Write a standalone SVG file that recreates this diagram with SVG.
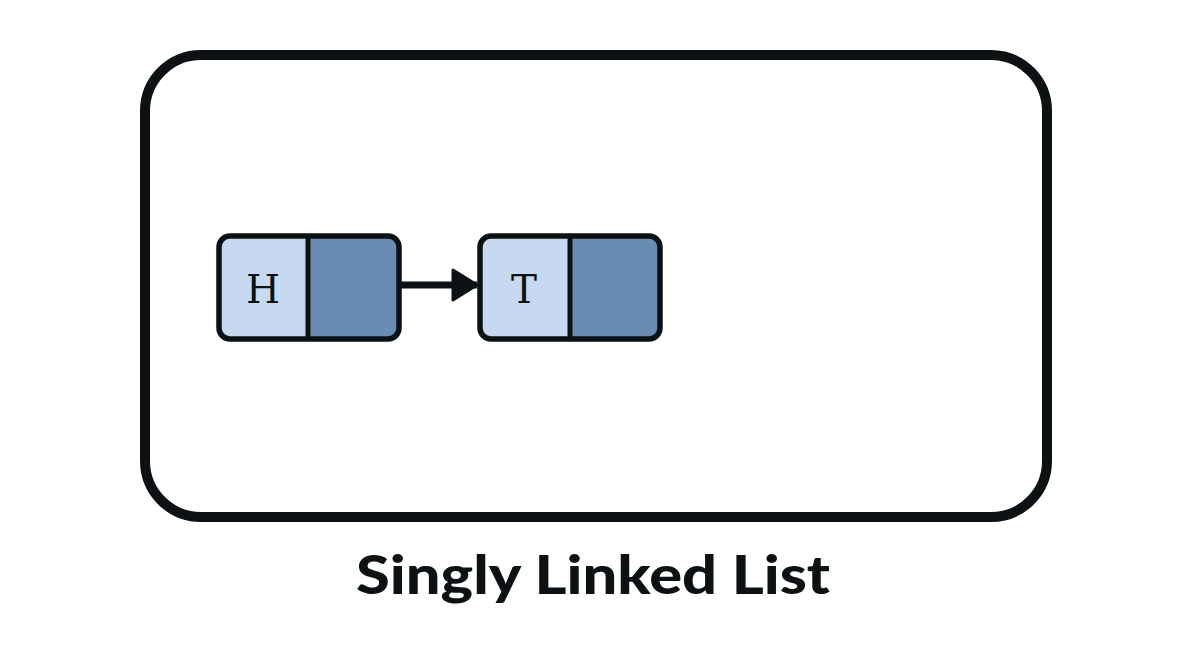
<svg xmlns="http://www.w3.org/2000/svg" width="1190" height="648" viewBox="0 0 1190 648">
<style>
.frame{fill:#fff;stroke:#0c1214;stroke-width:10}
.light{fill:#c7d9f0}
.dark{fill:#6a8cb2}
.box{fill:none;stroke:#0c1214;stroke-width:5.5}
.div{stroke:#0c1214;stroke-width:5}
.lbl{font-family:"DejaVu Serif","Liberation Serif",serif;font-size:39px;fill:#0c1214;text-anchor:middle}
.title{font-family:Lato,"Noto Sans",sans-serif;font-weight:900;font-size:54px;fill:#0c1214;text-anchor:middle}
.link{stroke:#0c1214;stroke-width:7;fill:none}
</style>
<defs>
<marker id="ah" markerUnits="userSpaceOnUse" markerWidth="28" markerHeight="34" refX="26" refY="17" orient="auto">
<path d="M2,2 L26,17 L2,32 Z" fill="#0c1214" stroke="#0c1214" stroke-width="3" stroke-linejoin="round"/>
</marker>
</defs>
<rect class="frame" x="145" y="55" width="902" height="462" rx="56"/>
<g id="node-h">
<rect class="light" x="219" y="236" width="90" height="103" rx="10"/>
<rect class="dark" x="308" y="236" width="90" height="103" rx="10"/>
<rect class="dark" x="308" y="236" width="40" height="103"/>
<rect class="box" x="219" y="236" width="180" height="103" rx="11"/>
<line class="div" x1="308" y1="236" x2="308" y2="339"/>
<text class="lbl" x="263" y="303">H</text>
</g>
<g id="node-t">
<rect class="light" x="480" y="236" width="90" height="103" rx="10"/>
<rect class="dark" x="570" y="236" width="90" height="103" rx="10"/>
<rect class="dark" x="570" y="236" width="40" height="103"/>
<rect class="box" x="480" y="236" width="180" height="103" rx="11"/>
<line class="div" x1="570" y1="236" x2="570" y2="339"/>
<text class="lbl" x="524" y="303">T</text>
</g>
<g id="connectors">
<line class="link" x1="401" y1="285" x2="477" y2="285" marker-end="url(#ah)"/>
</g>
<text class="title" x="593" y="594" textLength="474" lengthAdjust="spacingAndGlyphs">Singly Linked List</text>
</svg>
